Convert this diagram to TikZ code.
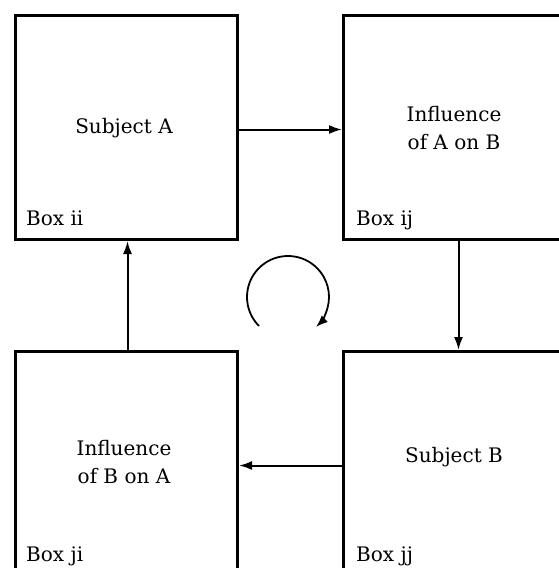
\documentclass[tikz,border=0pt]{standalone}
\usepackage{fontspec}
\setmainfont{DejaVu Serif}
\usetikzlibrary{arrows.meta,calc}
\tikzset{
  box/.style={draw, line width=3pt, rectangle, minimum width=222pt, minimum height=224pt, inner sep=0pt, anchor=north west},
  boxtext/.style={font=\fontsize{20}{28}\selectfont, align=center, inner sep=0pt},
  boxlabel/.style={font=\fontsize{20}{22}\selectfont, inner sep=0pt, anchor=base west},
  flow/.style={line width=2pt, -{Latex[length=13pt,width=9pt]}}
}
\begin{document}
\begin{tikzpicture}[x=1pt, y=-1pt]
  \clip (0,0) rectangle (559,568);
  \fill[white] (0,0) rectangle (559,568);

  % the four boxes
  \node[box] (ii) at (14,14) {};
  \node[box] (ij) at (342,14) {};
  \node[box] (ji) at (14,350) {};
  \node[box] (jj) at (342,350) {};

  % box contents
  \node[boxtext] (tA) at (124,128) {Subject A};
  \node[boxtext] (tAB) at (454,128) {Influence\\of A on B};
  \node[boxtext] (tBA) at (124,462) {Influence\\of B on A};
  \node[boxtext] (tB) at (454,457) {Subject B};

  % corner labels
  \node[boxlabel] (lii) at (26,225) {Box ii};
  \node[boxlabel] (lij) at (356,225) {Box ij};
  \node[boxlabel] (lji) at (26,561) {Box ji};
  \node[boxlabel] (ljj) at (356,561) {Box jj};

  % connectors around the cycle
  \draw[flow] ([yshift=-2pt]ii.east) -- ([yshift=-2pt]ij.west);
  \draw[flow] ([xshift=4pt]ij.south) -- ([xshift=4pt]jj.north);
  \draw[flow] ([yshift=-2pt]jj.west) -- ([yshift=-2pt]ji.east);
  \draw[flow] ([xshift=1pt]ji.north) -- ([xshift=1pt]ii.south);

  % clockwise cycle marker (y axis points down, so angles run clockwise)
  \coordinate (cyc) at (288,297);
  \draw[line width=1.8pt, -{Latex[length=12pt,width=9pt]}]
    ($(cyc)+(135:41)$) arc[start angle=135, end angle=407, radius=41];
\end{tikzpicture}
\end{document}
